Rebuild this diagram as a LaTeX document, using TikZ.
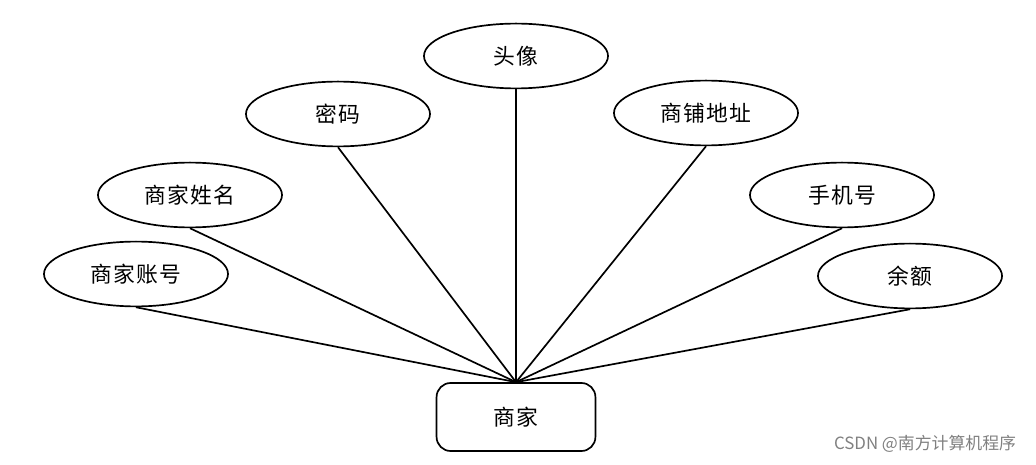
\documentclass[tikz,border=0pt]{standalone}
\usepackage{fontspec}
\setmainfont{Noto Sans CJK SC}
\newfontfamily\labelfont[LetterSpace=6]{Noto Sans CJK SC}
\usetikzlibrary{shapes.geometric, positioning}

\begin{document}
\begin{tikzpicture}[
  x=0.025cm, y=-0.025cm,
  font=\labelfont\fontsize{15.5}{18}\selectfont,
  attr/.style={ellipse, draw=black, line width=1.2pt, minimum width=4.6cm,
               minimum height=1.62cm, inner sep=0pt},
  entity/.style={rectangle, rounded corners=10pt, draw=black, line width=1.2pt,
                 minimum width=3.97cm, minimum height=1.7cm},
  link/.style={black, line width=1.2pt}
]
\useasboundingbox (0,0) rectangle (1036,465);

\node[entity] (shop) at (516,417) {商家};

\node[attr] (acct)  at (136,274) {商家账号};
\node[attr] (name)  at (190,195) {商家姓名};
\node[attr] (pwd)   at (338,114) {密码};
\node[attr] (avat)  at (516,56)  {头像};
\node[attr] (addr)  at (706,113) {商铺地址};
\node[attr] (phone) at (842,195) {手机号};
\node[attr] (bal)   at (910,276) {余额};

\foreach \a in {acct, name, pwd, avat, addr, phone, bal}
  \draw[link] (\a.south) -- (shop.north);

\node[text=gray, font=\fontsize{12}{14}\selectfont, anchor=east]
  (mark) at (1021,444) {CSDN @南方计算机程序};
\end{tikzpicture}
\end{document}
